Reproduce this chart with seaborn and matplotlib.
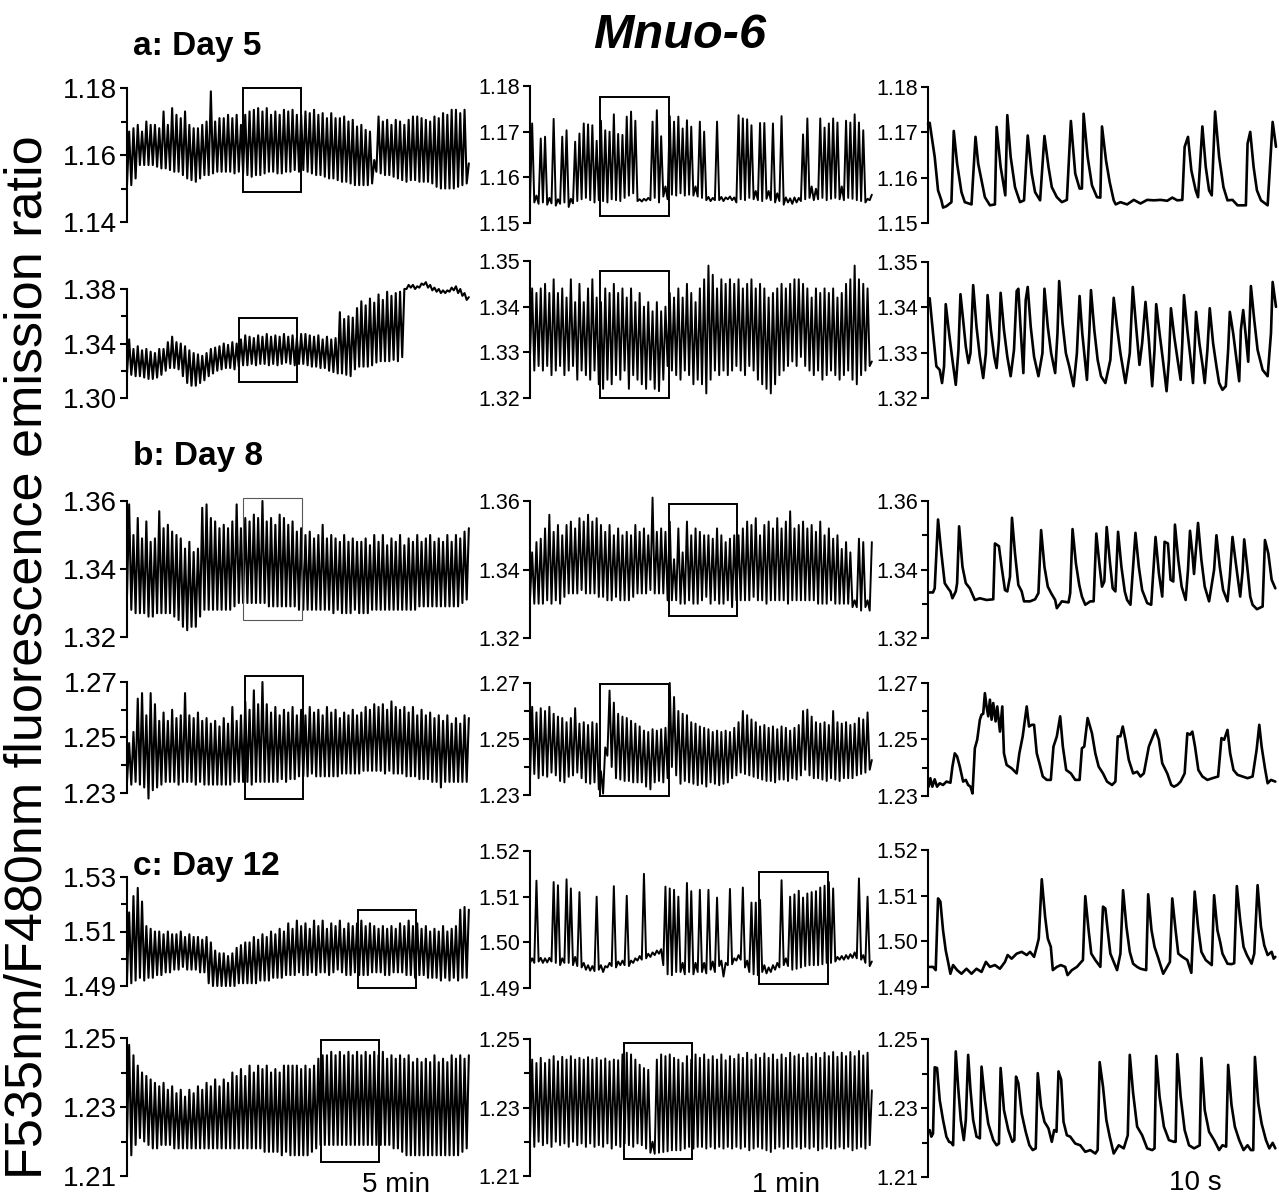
import numpy as np
import matplotlib
matplotlib.use("Agg")
import matplotlib.pyplot as plt
from matplotlib.patches import Rectangle
import seaborn as sns

sns.set_style("ticks")
plt.rcParams["font.family"] = ["Liberation Sans", "DejaVu Sans"]
plt.rcParams.update({"text.color": "black", "axes.labelcolor": "black", "xtick.color": "black",
                     "ytick.color": "black", "axes.edgecolor": "black"})

# ================= DATA (F535/F480 ratio values) =================
# Column 1 (overview, 5 min bar): per-bin minimum / maximum of the record, 80 bins
D5A_LONG_LO = [1.151,1.151,1.153,1.157,1.157,1.157,1.157,1.1565,1.156,1.156,
               1.1555,1.155,1.155,1.154,1.153,1.1525,1.152,1.153,1.154,1.154,
               1.1545,1.155,1.155,1.155,1.155,1.1545,1.155,1.1545,1.154,1.1535,
               1.154,1.154,1.1545,1.155,1.155,1.1545,1.1545,1.155,1.155,1.1555,
               1.155,1.1555,1.155,1.1545,1.154,1.154,1.1535,1.153,1.153,1.1525,
               1.152,1.152,1.1515,1.151,1.151,1.151,1.151,1.1515,1.155,1.1545,
               1.154,1.154,1.1535,1.153,1.1525,1.152,1.1525,1.1525,1.152,1.152,
               1.152,1.1515,1.1505,1.150,1.150,1.150,1.150,1.1505,1.151,1.1515]
D5A_LONG_HI = [1.167,1.168,1.169,1.167,1.170,1.169,1.169,1.168,1.173,1.169,
               1.174,1.172,1.171,1.173,1.169,1.168,1.168,1.169,1.170,1.179,
               1.170,1.171,1.171,1.172,1.171,1.172,1.169,1.172,1.173,1.1735,
               1.174,1.173,1.174,1.172,1.173,1.172,1.1735,1.173,1.1735,1.172,
               1.172,1.173,1.1725,1.1735,1.172,1.1725,1.171,1.1725,1.171,1.171,
               1.1715,1.170,1.1705,1.1685,1.169,1.1675,1.167,1.1585,1.1715,1.170,
               1.1705,1.169,1.1705,1.170,1.169,1.1705,1.1715,1.1715,1.171,1.1705,
               1.170,1.1715,1.171,1.1725,1.172,1.1735,1.1735,1.1725,1.1735,1.1575]
D5B_LONG_LO = [1.318,1.317,1.316,1.316,1.315,1.314,1.314,1.315,1.317,1.320,
               1.322,1.322,1.321,1.316,1.311,1.309,1.309,1.311,1.313,1.316,
               1.318,1.320,1.321,1.322,1.322,1.321,1.323,1.324,1.324,1.325,
               1.324,1.325,1.325,1.324,1.325,1.324,1.325,1.326,1.325,1.324,
               1.325,1.325,1.324,1.323,1.323,1.322,1.322,1.320,1.319,1.318,
               1.318,1.317,1.316,1.321,1.323,1.323,1.323,1.324,1.326,1.327,
               1.327,1.327,1.328,1.327,1.330,1.380,1.381,1.380,1.381,1.383,
               1.381,1.379,1.378,1.377,1.377,1.378,1.379,1.377,1.375,1.372]
D5B_LONG_HI = [1.343,1.336,1.338,1.335,1.336,1.334,1.333,1.336,1.336,1.341,
               1.345,1.341,1.340,1.338,1.335,1.333,1.332,1.331,1.333,1.336,
               1.337,1.338,1.340,1.339,1.341,1.340,1.343,1.346,1.345,1.344,
               1.346,1.345,1.347,1.345,1.346,1.345,1.347,1.345,1.346,1.344,
               1.347,1.347,1.346,1.345,1.346,1.343,1.345,1.343,1.344,1.363,
               1.358,1.360,1.359,1.366,1.371,1.368,1.373,1.370,1.376,1.372,
               1.378,1.375,1.377,1.378,1.380,1.383,1.383,1.382,1.384,1.385,
               1.383,1.381,1.380,1.379,1.379,1.381,1.382,1.380,1.377,1.374]
D8A_LONG_LO = [1.332,1.328,1.327,1.327,1.327,1.326,1.326,1.327,1.327,1.327,
               1.327,1.326,1.325,1.323,1.322,1.323,1.323,1.326,1.328,1.328,
               1.328,1.328,1.328,1.328,1.328,1.329,1.330,1.330,1.330,1.330,
               1.330,1.330,1.330,1.329,1.329,1.329,1.329,1.329,1.329,1.329,
               1.328,1.328,1.328,1.328,1.328,1.328,1.328,1.328,1.327,1.328,
               1.327,1.327,1.327,1.328,1.327,1.327,1.327,1.328,1.328,1.328,
               1.328,1.328,1.328,1.328,1.328,1.328,1.328,1.328,1.329,1.329,
               1.329,1.329,1.329,1.329,1.329,1.329,1.329,1.329,1.330,1.331]
D8A_LONG_HI = [1.359,1.350,1.355,1.349,1.354,1.348,1.349,1.357,1.352,1.353,
               1.351,1.350,1.349,1.346,1.348,1.345,1.346,1.358,1.359,1.355,
               1.354,1.352,1.353,1.352,1.354,1.359,1.352,1.355,1.354,1.356,
               1.355,1.360,1.354,1.355,1.353,1.356,1.355,1.353,1.354,1.351,
               1.352,1.350,1.351,1.349,1.350,1.353,1.349,1.350,1.349,1.348,
               1.350,1.348,1.349,1.348,1.348,1.349,1.347,1.350,1.348,1.350,
               1.347,1.349,1.348,1.350,1.347,1.349,1.348,1.350,1.348,1.349,
               1.350,1.348,1.349,1.348,1.350,1.348,1.350,1.349,1.351,1.352]
D8B_LONG_LO = [1.234,1.233,1.234,1.233,1.232,1.228,1.231,1.232,1.233,1.234,
               1.234,1.234,1.233,1.234,1.234,1.234,1.233,1.234,1.233,1.233,
               1.233,1.233,1.233,1.233,1.233,1.234,1.234,1.234,1.234,1.233,
               1.234,1.234,1.234,1.234,1.234,1.234,1.235,1.234,1.235,1.235,
               1.236,1.236,1.236,1.237,1.236,1.236,1.236,1.236,1.236,1.236,
               1.237,1.237,1.237,1.237,1.237,1.238,1.238,1.238,1.238,1.238,
               1.237,1.238,1.237,1.237,1.237,1.236,1.236,1.236,1.235,1.235,
               1.235,1.234,1.234,1.232,1.234,1.234,1.234,1.234,1.234,1.234]
D8B_LONG_HI = [1.248,1.252,1.264,1.266,1.258,1.266,1.262,1.256,1.259,1.256,
               1.260,1.257,1.258,1.266,1.258,1.257,1.259,1.256,1.257,1.255,
               1.256,1.254,1.257,1.255,1.261,1.256,1.258,1.263,1.260,1.267,
               1.262,1.270,1.262,1.259,1.261,1.258,1.260,1.259,1.261,1.258,
               1.260,1.258,1.261,1.259,1.260,1.258,1.261,1.259,1.260,1.257,
               1.259,1.258,1.260,1.258,1.259,1.261,1.260,1.262,1.261,1.262,
               1.260,1.263,1.261,1.260,1.261,1.259,1.261,1.258,1.260,1.258,
               1.259,1.257,1.258,1.256,1.258,1.255,1.257,1.255,1.258,1.257]
D12A_LONG_LO = [1.492,1.491,1.492,1.493,1.492,1.493,1.493,1.494,1.494,1.495,
                1.495,1.496,1.496,1.497,1.496,1.496,1.496,1.495,1.495,1.491,
                1.490,1.490,1.490,1.490,1.490,1.490,1.491,1.491,1.491,1.491,
                1.491,1.492,1.492,1.492,1.493,1.493,1.493,1.494,1.494,1.494,
                1.495,1.494,1.494,1.495,1.494,1.495,1.495,1.494,1.495,1.496,
                1.495,1.494,1.494,1.495,1.494,1.494,1.494,1.495,1.495,1.495,
                1.494,1.494,1.495,1.495,1.495,1.494,1.494,1.493,1.494,1.494,
                1.493,1.493,1.493,1.492,1.493,1.492,1.493,1.492,1.493,1.493]
D12A_LONG_HI = [1.517,1.523,1.526,1.521,1.512,1.511,1.510,1.510,1.509,1.510,
                1.509,1.509,1.510,1.508,1.509,1.508,1.508,1.507,1.508,1.506,
                1.503,1.502,1.502,1.501,1.502,1.504,1.505,1.506,1.506,1.508,
                1.507,1.509,1.508,1.510,1.509,1.511,1.510,1.513,1.511,1.514,
                1.512,1.513,1.511,1.514,1.512,1.514,1.511,1.513,1.512,1.514,
                1.511,1.513,1.512,1.513,1.514,1.512,1.513,1.512,1.511,1.512,
                1.511,1.512,1.511,1.513,1.512,1.514,1.512,1.513,1.511,1.512,
                1.510,1.511,1.510,1.512,1.510,1.511,1.512,1.518,1.519,1.518]
D12B_LONG_LO = [1.221,1.216,1.219,1.221,1.220,1.219,1.218,1.218,1.219,1.219,
                1.219,1.218,1.218,1.218,1.218,1.218,1.218,1.218,1.218,1.218,
                1.218,1.218,1.218,1.218,1.218,1.218,1.218,1.218,1.218,1.218,
                1.218,1.218,1.217,1.217,1.217,1.217,1.216,1.217,1.216,1.216,
                1.216,1.216,1.216,1.217,1.218,1.219,1.219,1.219,1.219,1.219,
                1.219,1.219,1.219,1.219,1.219,1.219,1.219,1.219,1.219,1.219,
                1.219,1.219,1.218,1.218,1.217,1.216,1.216,1.216,1.216,1.216,
                1.216,1.216,1.216,1.216,1.216,1.216,1.216,1.216,1.217,1.218]
D12B_LONG_HI = [1.248,1.245,1.242,1.240,1.239,1.238,1.237,1.236,1.237,1.235,
                1.236,1.234,1.235,1.233,1.235,1.234,1.236,1.235,1.237,1.236,
                1.238,1.236,1.238,1.237,1.240,1.239,1.241,1.239,1.242,1.240,
                1.242,1.241,1.242,1.240,1.241,1.240,1.242,1.242,1.242,1.242,
                1.241,1.242,1.241,1.242,1.244,1.245,1.245,1.246,1.245,1.246,
                1.245,1.246,1.245,1.246,1.245,1.246,1.245,1.246,1.245,1.246,
                1.244,1.245,1.244,1.245,1.244,1.245,1.243,1.244,1.243,1.244,
                1.243,1.245,1.243,1.244,1.243,1.245,1.244,1.245,1.244,1.245]

# Column 2 (1 min bar): per-bin minimum / maximum, 80 bins
D5A_MID_LO = [1.1548,1.1545,1.1542,1.1545,1.1540,1.1543,1.1538,1.1542,1.1545,1.1535,
              1.1543,1.1548,1.1552,1.1555,1.1550,1.1545,1.1550,1.1548,1.1545,1.1552,
              1.1550,1.1548,1.1555,1.1560,1.1565,1.1548,1.1547,1.1549,1.1550,1.1555,
              1.1545,1.1558,1.1552,1.1562,1.1560,1.1565,1.1560,1.1562,1.1560,1.1558,
              1.1555,1.1550,1.1548,1.1550,1.1550,1.1548,1.1552,1.1550,1.1545,1.1552,
              1.1550,1.1555,1.1552,1.1550,1.1548,1.1553,1.1550,1.1545,1.1548,1.1540,
              1.1545,1.1542,1.1545,1.1548,1.1552,1.1555,1.1550,1.1552,1.1555,1.1550,
              1.1553,1.1555,1.1552,1.1550,1.1555,1.1553,1.1550,1.1548,1.1545,1.1550]
D5A_MID_HI = [1.1718,1.1560,1.1685,1.1689,1.1555,1.1728,1.1552,1.1689,1.1703,1.1553,
              1.1678,1.1696,1.1718,1.1716,1.1714,1.1680,1.1724,1.1703,1.1700,1.1738,
              1.1695,1.1693,1.1733,1.1744,1.1724,1.1552,1.1553,1.1555,1.1722,1.1747,
              1.1690,1.1580,1.1734,1.1722,1.1733,1.1707,1.1725,1.1711,1.1580,1.1722,
              1.1700,1.1557,1.1555,1.1722,1.1557,1.1556,1.1558,1.1556,1.1736,1.1729,
              1.1727,1.1714,1.1570,1.1719,1.1719,1.1570,1.1718,1.1565,1.1734,1.1556,
              1.1554,1.1556,1.1555,1.1694,1.1729,1.1580,1.1575,1.1729,1.1709,1.1718,
              1.1729,1.1720,1.1580,1.1724,1.1720,1.1738,1.1720,1.1703,1.1553,1.1562]
D5B_MID_LO = [1.329,1.326,1.327,1.326,1.327,1.325,1.326,1.327,1.325,1.326,
              1.327,1.324,1.326,1.325,1.324,1.326,1.323,1.322,1.324,1.323,
              1.325,1.324,1.326,1.322,1.325,1.324,1.323,1.322,1.324,1.322,
              1.3215,1.324,1.327,1.326,1.325,1.324,1.326,1.325,1.323,1.324,
              1.323,1.321,1.324,1.326,1.325,1.326,1.325,1.326,1.327,1.326,
              1.325,1.327,1.326,1.324,1.323,1.322,1.321,1.323,1.325,1.326,
              1.327,1.328,1.327,1.329,1.327,1.326,1.325,1.326,1.324,1.325,
              1.326,1.325,1.324,1.325,1.326,1.324,1.323,1.325,1.326,1.327]
D5B_MID_HI = [1.344,1.343,1.344,1.345,1.343,1.346,1.343,1.344,1.342,1.346,
              1.341,1.345,1.341,1.344,1.346,1.342,1.341,1.344,1.343,1.345,
              1.343,1.344,1.342,1.344,1.341,1.343,1.340,1.341,1.339,1.341,
              1.339,1.340,1.343,1.342,1.344,1.342,1.345,1.343,1.341,1.344,
              1.346,1.349,1.347,1.344,1.346,1.345,1.346,1.345,1.346,1.344,
              1.345,1.346,1.344,1.345,1.344,1.342,1.343,1.344,1.345,1.344,
              1.345,1.346,1.346,1.345,1.344,1.342,1.344,1.343,1.344,1.343,
              1.344,1.342,1.343,1.345,1.346,1.349,1.346,1.345,1.344,1.328]
D8A_MID_LO = [1.331,1.330,1.330,1.330,1.331,1.330,1.331,1.330,1.332,1.333,
              1.333,1.333,1.334,1.333,1.333,1.333,1.332,1.332,1.331,1.331,
              1.332,1.331,1.331,1.331,1.332,1.333,1.333,1.333,1.334,1.333,
              1.333,1.333,1.331,1.331,1.331,1.330,1.330,1.331,1.330,1.330,
              1.331,1.332,1.330,1.331,1.330,1.330,1.331,1.329,1.331,1.331,
              1.331,1.331,1.332,1.331,1.331,1.330,1.331,1.331,1.331,1.331,
              1.330,1.331,1.331,1.331,1.331,1.331,1.331,1.330,1.330,1.330,
              1.331,1.330,1.330,1.330,1.330,1.329,1.329,1.328,1.329,1.328]
D8A_MID_HI = [1.345,1.348,1.349,1.352,1.356,1.351,1.353,1.350,1.353,1.354,
              1.352,1.355,1.354,1.356,1.354,1.355,1.353,1.351,1.353,1.350,
              1.352,1.350,1.351,1.350,1.353,1.351,1.352,1.350,1.361,1.351,
              1.352,1.351,1.354,1.343,1.352,1.345,1.354,1.350,1.352,1.351,
              1.350,1.350,1.349,1.352,1.350,1.348,1.349,1.350,1.350,1.352,
              1.354,1.353,1.355,1.350,1.353,1.354,1.352,1.355,1.352,1.354,
              1.357,1.352,1.353,1.354,1.352,1.353,1.351,1.354,1.350,1.352,
              1.349,1.350,1.346,1.348,1.345,1.331,1.349,1.348,1.331,1.348]
D8B_MID_LO = [1.2355,1.2375,1.2360,1.2370,1.2365,1.2380,1.2370,1.2350,1.2345,1.2365,
              1.2370,1.2380,1.2360,1.2345,1.2340,1.2345,1.2320,1.2305,1.2440,1.2400,
              1.2360,1.2355,1.2350,1.2350,1.2345,1.2345,1.2345,1.2330,1.2320,1.2345,
              1.2350,1.2345,1.2360,1.2400,1.2370,1.2340,1.2350,1.2345,1.2340,1.2335,
              1.2340,1.2330,1.2345,1.2340,1.2335,1.2340,1.2345,1.2360,1.2370,1.2380,
              1.2375,1.2370,1.2365,1.2360,1.2355,1.2350,1.2350,1.2345,1.2355,1.2355,
              1.2350,1.2360,1.2355,1.2370,1.2390,1.2370,1.2360,1.2360,1.2355,1.2350,
              1.2360,1.2355,1.2350,1.2360,1.2360,1.2360,1.2370,1.2375,1.2380,1.2390]
D8B_MID_HI = [1.2615,1.2595,1.2610,1.2600,1.2615,1.2590,1.2580,1.2575,1.2560,1.2575,
              1.2610,1.2555,1.2560,1.2550,1.2560,1.2555,1.2385,1.2470,1.2673,1.2630,
              1.2590,1.2580,1.2575,1.2565,1.2555,1.2545,1.2530,1.2525,1.2535,1.2530,
              1.2535,1.2540,1.2700,1.2650,1.2600,1.2590,1.2585,1.2560,1.2555,1.2545,
              1.2540,1.2535,1.2525,1.2530,1.2525,1.2530,1.2525,1.2540,1.2560,1.2600,
              1.2585,1.2570,1.2560,1.2545,1.2550,1.2540,1.2545,1.2535,1.2545,1.2540,
              1.2530,1.2540,1.2550,1.2600,1.2605,1.2580,1.2560,1.2555,1.2560,1.2550,
              1.2600,1.2560,1.2555,1.2560,1.2550,1.2555,1.2575,1.2570,1.2595,1.2425]
D12A_MID_LO = [1.4955,1.4955,1.4958,1.4955,1.4956,1.4958,1.4955,1.4950,1.4955,1.4955,
               1.4950,1.4948,1.4945,1.4940,1.4938,1.4937,1.4940,1.4935,1.4945,1.4948,
               1.4945,1.4950,1.4950,1.4948,1.4955,1.4960,1.4962,1.4965,1.4968,1.4972,
               1.4975,1.4950,1.4930,1.4928,1.4935,1.4935,1.4930,1.4935,1.4930,1.4935,
               1.4935,1.4932,1.4940,1.4935,1.4948,1.4925,1.4950,1.4952,1.4960,1.4962,
               1.4945,1.4935,1.4930,1.4928,1.4935,1.4932,1.4935,1.4940,1.4945,1.4950,
               1.4948,1.4940,1.4942,1.4945,1.4948,1.4950,1.4950,1.4950,1.4952,1.4955,
               1.4955,1.4958,1.4962,1.4962,1.4964,1.4966,1.4965,1.4962,1.4955,1.4948]
D12A_MID_HI = [1.4965,1.5135,1.4966,1.4965,1.4966,1.5132,1.5125,1.4965,1.5138,1.5118,
               1.4968,1.5110,1.4955,1.4950,1.4948,1.5100,1.4950,1.4948,1.4955,1.5123,
               1.4958,1.4960,1.5102,1.4960,1.4965,1.4970,1.5150,1.4975,1.4978,1.4982,
               1.4985,1.5122,1.5118,1.5115,1.5100,1.4955,1.5130,1.5112,1.4955,1.5115,
               1.4955,1.5115,1.4958,1.5098,1.4960,1.4955,1.5117,1.4965,1.4972,1.5120,
               1.4960,1.5087,1.5087,1.5093,1.4950,1.4945,1.4950,1.4955,1.5136,1.4965,
               1.5100,1.5105,1.5113,1.5098,1.5107,1.5110,1.5112,1.5120,1.5124,1.5132,
               1.5118,1.4968,1.4970,1.4972,1.4974,1.4978,1.5140,1.4972,1.5100,1.4958]
D12B_MID_LO = [1.2200,1.2185,1.2200,1.2190,1.2195,1.2185,1.2200,1.2190,1.2195,1.2185,
               1.2200,1.2190,1.2195,1.2185,1.2195,1.2185,1.2190,1.2185,1.2195,1.2180,
               1.2190,1.2185,1.2195,1.2190,1.2185,1.2195,1.2190,1.2180,1.2168,1.2165,
               1.2168,1.2170,1.2172,1.2175,1.2175,1.2175,1.2180,1.2185,1.2180,1.2185,
               1.2185,1.2180,1.2185,1.2180,1.2185,1.2180,1.2185,1.2180,1.2185,1.2180,
               1.2185,1.2175,1.2180,1.2185,1.2180,1.2175,1.2170,1.2180,1.2185,1.2180,
               1.2185,1.2180,1.2185,1.2180,1.2185,1.2180,1.2185,1.2175,1.2180,1.2185,
               1.2180,1.2180,1.2185,1.2180,1.2185,1.2175,1.2180,1.2185,1.2180,1.2190]
D12B_MID_HI = [1.2440,1.2430,1.2445,1.2430,1.2440,1.2450,1.2435,1.2448,1.2440,1.2450,
               1.2440,1.2445,1.2440,1.2447,1.2440,1.2445,1.2438,1.2443,1.2435,1.2440,
               1.2438,1.2455,1.2460,1.2455,1.2440,1.2425,1.2415,1.2410,1.2200,1.2440,
               1.2455,1.2450,1.2455,1.2445,1.2440,1.2430,1.2450,1.2440,1.2455,1.2445,
               1.2455,1.2440,1.2450,1.2440,1.2455,1.2438,1.2450,1.2442,1.2455,1.2445,
               1.2460,1.2440,1.2455,1.2445,1.2458,1.2445,1.2455,1.2440,1.2455,1.2445,
               1.2460,1.2450,1.2455,1.2445,1.2458,1.2448,1.2458,1.2445,1.2460,1.2450,
               1.2462,1.2448,1.2460,1.2450,1.2462,1.2450,1.2465,1.2452,1.2460,1.2350]

# Column 3 (10 s bar): (time s, ratio)
D5A_ZOOM = [(0.0,1.1719),(0.25,1.1721),(1.0,1.1646),(1.5,1.1572),(2.0,1.1550),(2.25,1.1534),
            (2.75,1.1537),(3.5,1.1546),(3.85,1.1703),(4.35,1.1631),(5.0,1.1568),(5.5,1.1546),
            (6.5,1.1541),(7.1,1.1690),(7.5,1.1631),(8.0,1.1594),(8.5,1.1557),(9.25,1.1539),
            (10.0,1.1541),(10.25,1.1712),(10.85,1.1624),(11.55,1.1561),(11.85,1.1738),(12.35,1.1646),
            (13.0,1.1579),(13.75,1.1546),(14.35,1.1550),(14.9,1.1693),(15.5,1.1609),(16.0,1.1568),
            (16.75,1.1550),(17.4,1.1692),(18.0,1.1624),(18.5,1.1579),(19.25,1.1557),(20.0,1.1546),
            (20.75,1.1551),(21.35,1.1725),(22.0,1.1609),(22.65,1.1576),(23.0,1.1576),(23.25,1.1741),
            (23.85,1.1646),(24.5,1.1583),(25.25,1.1557),(25.75,1.1556),(26.0,1.1713),(26.6,1.1638),
            (27.15,1.1590),(27.75,1.1550),(28.05,1.1541),(28.75,1.1546),(29.75,1.1541),(30.75,1.1551),
            (31.75,1.1543),(32.75,1.1551),(33.75,1.1550),(34.75,1.1551),(35.75,1.1549),(36.5,1.1556),
            (37.25,1.1550),(38.0,1.1551),(38.35,1.1668),(38.85,1.1690),(39.35,1.1616),(40.0,1.1572),
            (40.35,1.1557),(41.0,1.1713),(41.5,1.1624),(42.0,1.1572),(42.4,1.1561),(42.9,1.1746),
            (43.5,1.1646),(44.15,1.1579),(44.75,1.1550),(45.5,1.1551),(46.25,1.1539),(47.5,1.1539),
            (47.75,1.1675),(48.15,1.1701),(48.65,1.1624),(49.15,1.1572),(49.75,1.1550),(50.75,1.1539),
            (51.5,1.1723),(52.0,1.1668)]
D5B_ZOOM = [(0.0,1.3412),(0.25,1.3420),(0.75,1.3343),(1.25,1.3270),(1.75,1.3262),(2.1,1.3233),
            (2.4,1.3270),(2.65,1.3407),(3.15,1.3343),(3.65,1.3284),(4.15,1.3229),(4.55,1.3306),
            (4.85,1.3429),(5.25,1.3372),(5.65,1.3313),(6.05,1.3277),(6.35,1.3299),(6.75,1.3449),
            (7.25,1.3357),(7.75,1.3291),(8.25,1.3244),(8.65,1.3299),(8.9,1.3427),(9.4,1.3350),
            (9.9,1.3291),(10.25,1.3266),(10.6,1.3328),(10.85,1.3432),(11.35,1.3350),(11.85,1.3291),
            (12.35,1.3248),(12.85,1.3306),(13.25,1.3436),(13.5,1.3441),(13.85,1.3350),(14.25,1.3255),
            (14.6,1.3416),(14.9,1.3445),(15.35,1.3357),(15.85,1.3291),(16.5,1.3248),(17.1,1.3299),
            (17.4,1.3441),(17.9,1.3357),(18.4,1.3299),(19.0,1.3255),(19.35,1.3343),(19.6,1.3458),
            (20.1,1.3365),(20.6,1.3299),(21.1,1.3270),(21.75,1.3226),(22.25,1.3299),(22.65,1.3425),
            (23.05,1.3343),(23.45,1.3284),(23.75,1.3240),(24.1,1.3343),(24.35,1.3438),(24.85,1.3350),
            (25.35,1.3284),(25.85,1.3248),(26.5,1.3233),(27.25,1.3284),(27.75,1.3421),(28.25,1.3357),
            (28.75,1.3299),(29.5,1.3233),(30.15,1.3299),(30.6,1.3445),(31.1,1.3357),(31.6,1.3273),
            (32.0,1.3321),(32.5,1.3412),(33.0,1.3328),(33.5,1.3226),(33.85,1.3306),(34.1,1.3407),
            (34.6,1.3343),(35.1,1.3284),(35.65,1.3215),(36.0,1.3284),(36.3,1.3398),(36.8,1.3335),
            (37.3,1.3284),(37.75,1.3240),(38.0,1.3321),(38.25,1.3427),(38.75,1.3350),(39.25,1.3284),
            (39.6,1.3233),(39.85,1.3313),(40.05,1.3390),(40.55,1.3321),(41.05,1.3270),(41.35,1.3233),
            (41.75,1.3306),(42.1,1.3398),(42.6,1.3321),(43.1,1.3270),(43.5,1.3233),(44.0,1.3218),
            (44.5,1.3226),(44.85,1.3306),(45.1,1.3390),(45.6,1.3343),(46.1,1.3284),(46.5,1.3237),
            (46.75,1.3350),(47.1,1.3394),(47.5,1.3335),(47.85,1.3280),(48.25,1.3447),(48.75,1.3372),
            (49.25,1.3306),(50.0,1.3262),(50.75,1.3248),(51.25,1.3343),(51.5,1.3456),(52.0,1.3401)]
D8A_ZOOM = [(0.1,1.3333),(0.75,1.3333),(1.0,1.3345),(1.5,1.3546),(2.0,1.3447),(2.5,1.3360),
            (3.0,1.3345),(3.35,1.3336),(3.65,1.3316),(4.15,1.3336),(4.35,1.3360),(4.65,1.3526),
            (5.15,1.3408),(5.65,1.3360),(6.25,1.3345),(7.0,1.3311),(7.75,1.3316),(8.75,1.3311),
            (9.75,1.3313),(10.0,1.3476),(10.6,1.3468),(11.0,1.3408),(11.5,1.3340),(11.85,1.3336),
            (12.25,1.3379),(12.55,1.3551),(13.0,1.3447),(13.5,1.3355),(14.0,1.3336),(14.35,1.3307),
            (15.25,1.3307),(16.0,1.3313),(16.5,1.3331),(16.9,1.3515),(17.4,1.3408),(17.9,1.3350),
            (18.4,1.3331),(19.0,1.3311),(19.25,1.3287),(20.0,1.3307),(21.0,1.3304),(21.25,1.3331),
            (21.6,1.3518),(22.1,1.3418),(22.6,1.3355),(23.0,1.3321),(23.5,1.3297),(24.25,1.3307),
            (24.75,1.3307),(25.15,1.3505),(25.65,1.3408),(26.0,1.3350),(26.35,1.3365),(26.7,1.3524),
            (27.2,1.3418),(27.6,1.3345),(28.0,1.3336),(28.4,1.3510),(28.9,1.3408),(29.4,1.3336),
            (29.75,1.3311),(30.25,1.3297),(31.0,1.3507),(31.5,1.3408),(32.0,1.3340),(32.75,1.3302),
            (33.35,1.3297),(34.0,1.3495),(34.5,1.3389),(35.0,1.3321),(35.35,1.3481),(35.85,1.3476),
            (36.25,1.3370),(36.65,1.3365),(36.9,1.3531),(37.4,1.3428),(37.9,1.3350),(38.5,1.3311),
            (38.85,1.3399),(39.15,1.3513),(39.5,1.3447),(39.75,1.3387),(40.35,1.3536),(40.85,1.3428),
            (41.35,1.3350),(42.0,1.3307),(42.75,1.3399),(43.1,1.3500),(43.6,1.3408),(44.1,1.3340),
            (44.75,1.3307),(45.1,1.3379),(45.5,1.3495),(46.0,1.3418),(46.65,1.3321),(47.0,1.3394),
            (47.25,1.3488),(47.75,1.3399),(48.15,1.3321),(48.5,1.3297),(49.15,1.3284),(50.0,1.3292),
            (50.35,1.3486),(50.85,1.3447),(51.35,1.3370),(51.9,1.3345)]
D8B_ZOOM = [(0.1,1.2333),(0.35,1.2363),(0.65,1.2333),(1.0,1.2359),(1.35,1.2333),(1.75,1.2345),
            (2.25,1.2339),(2.75,1.2351),(3.35,1.2347),(3.65,1.2404),(4.0,1.2451),(4.35,1.2440),
            (4.75,1.2404),(5.25,1.2351),(5.65,1.2357),(6.0,1.2339),(6.35,1.2333),(6.65,1.2309),
            (7.0,1.2469),(7.35,1.2499),(7.75,1.2570),(8.0,1.2588),(8.25,1.2591),(8.5,1.2664),
            (8.75,1.2617),(9.0,1.2582),(9.25,1.2641),(9.5,1.2570),(9.75,1.2629),(10.1,1.2564),
            (10.35,1.2617),(10.75,1.2528),(11.1,1.2617),(11.35,1.2451),(11.75,1.2410),(12.5,1.2398),
            (13.25,1.2380),(13.65,1.2451),(14.15,1.2511),(14.75,1.2617),(15.1,1.2546),(15.5,1.2552),
            (15.85,1.2552),(16.25,1.2451),(16.65,1.2416),(17.15,1.2369),(17.75,1.2357),(18.35,1.2357),
            (18.75,1.2475),(19.25,1.2511),(19.75,1.2582),(20.15,1.2475),(20.65,1.2392),(21.35,1.2380),
            (22.0,1.2357),(22.65,1.2357),(23.0,1.2469),(23.35,1.2475),(23.85,1.2576),(24.5,1.2522),
            (25.0,1.2451),(25.5,1.2404),(26.15,1.2380),(26.75,1.2351),(27.5,1.2339),(28.0,1.2351),
            (28.35,1.2511),(28.75,1.2511),(29.1,1.2546),(29.5,1.2499),(30.0,1.2428),(30.65,1.2380),
            (31.25,1.2386),(31.75,1.2369),(32.25,1.2380),(33.0,1.2475),(33.5,1.2505),(34.0,1.2534),
            (34.5,1.2499),(35.0,1.2416),(35.75,1.2380),(36.35,1.2339),(36.75,1.2333),(37.25,1.2339),
            (37.75,1.2351),(38.35,1.2380),(38.75,1.2522),(39.15,1.2517),(39.5,1.2528),(39.9,1.2475),
            (40.4,1.2392),(41.0,1.2369),(41.75,1.2357),(42.5,1.2363),(43.35,1.2369),(43.85,1.2505),
            (44.25,1.2499),(44.75,1.2534),(45.15,1.2451),(45.65,1.2392),(46.25,1.2375),(47.0,1.2369),
            (47.75,1.2363),(48.5,1.2369),(49.1,1.2463),(49.5,1.2552),(49.85,1.2475),(50.35,1.2398),
            (50.75,1.2345),(51.25,1.2357),(51.9,1.2351)]
D12A_ZOOM = [(0.25,1.4944),(0.75,1.4944),(1.15,1.4937),(1.5,1.5094),(1.85,1.5087),(2.25,1.5024),
             (2.65,1.4980),(3.0,1.4955),(3.35,1.4929),(3.75,1.4948),(4.35,1.4937),(5.0,1.4929),
             (5.75,1.4940),(6.5,1.4929),(7.25,1.4940),(8.0,1.4933),(8.65,1.4955),(9.25,1.4944),
             (10.0,1.4948),(10.75,1.4940),(11.5,1.4955),(11.9,1.4970),(12.5,1.4962),(13.25,1.4973),
             (14.0,1.4977),(14.75,1.4970),(15.25,1.4977),(15.85,1.4966),(16.25,1.4988),(16.55,1.5006),
             (17.0,1.5136),(17.5,1.5054),(17.9,1.5006),(18.35,1.4988),(18.65,1.4937),(19.25,1.4944),
             (19.85,1.4948),(20.5,1.4944),(20.85,1.4926),(21.5,1.4937),(22.25,1.4944),(23.15,1.4959),
             (23.5,1.5099),(24.0,1.5024),(24.4,1.4973),(25.0,1.4959),(25.75,1.4944),(26.15,1.5076),
             (26.5,1.5072),(26.85,1.5024),(27.25,1.4973),(27.75,1.4955),(28.25,1.4937),(28.75,1.4973),
             (29.15,1.5112),(29.65,1.5032),(30.15,1.4977),(30.65,1.4951),(31.25,1.4944),(31.75,1.4940),
             (32.6,1.4937),(32.9,1.5103),(33.4,1.5024),(33.85,1.4988),(34.35,1.4966),(35.15,1.4929),
             (36.15,1.4955),(36.5,1.5094),(37.0,1.5024),(37.4,1.4973),(38.0,1.4966),(38.75,1.4959),
             (39.35,1.4931),(39.85,1.5109),(40.35,1.5032),(40.85,1.4977),(41.5,1.4959),(42.4,1.4948),
             (42.75,1.5101),(43.25,1.5024),(43.65,1.4999),(44.0,1.4973),(44.75,1.4951),(45.35,1.4950),
             (45.75,1.4952),(46.15,1.5121),(46.65,1.5046),(47.15,1.4988),(47.65,1.4970),(48.35,1.4951),
             (48.75,1.4973),(49.25,1.5123),(49.75,1.5032),(50.25,1.4991),(50.75,1.4970),(51.35,1.4977),
             (51.65,1.4962),(51.9,1.4966)]
D12B_ZOOM = [(0.25,1.2236),(0.5,1.2217),(0.75,1.2226),(1.0,1.2418),(1.35,1.2416),(1.75,1.2323),
             (2.25,1.2265),(2.75,1.2217),(3.15,1.2202),(3.5,1.2199),(3.75,1.2192),(4.15,1.2464),
             (4.5,1.2362),(4.9,1.2265),(5.35,1.2207),(5.65,1.2265),(6.0,1.2454),(6.35,1.2352),
             (6.75,1.2265),(7.25,1.2217),(7.75,1.2212),(8.0,1.2420),(8.5,1.2323),(9.0,1.2255),
             (9.75,1.2207),(10.25,1.2192),(10.6,1.2197),(10.85,1.2416),(11.35,1.2294),(12.0,1.2236),
             (12.6,1.2202),(12.9,1.2207),(13.15,1.2391),(13.5,1.2372),(14.0,1.2284),(14.6,1.2231),
             (15.15,1.2192),(15.65,1.2178),(16.1,1.2183),(16.4,1.2401),(16.9,1.2304),(17.4,1.2260),
             (18.0,1.2241),(18.5,1.2202),(18.85,1.2236),(19.2,1.2231),(19.5,1.2406),(19.9,1.2382),
             (20.25,1.2260),(20.75,1.2221),(21.25,1.2217),(22.0,1.2197),(22.75,1.2192),(23.5,1.2173),
             (24.25,1.2178),(25.0,1.2168),(25.35,1.2178),(25.65,1.2433),(26.15,1.2362),(26.65,1.2265),
             (27.15,1.2217),(27.75,1.2168),(28.5,1.2192),(29.25,1.2183),(29.85,1.2221),(30.15,1.2454),
             (30.65,1.2343),(31.25,1.2246),(32.0,1.2221),(32.75,1.2183),(33.5,1.2178),(33.85,1.2183),
             (34.1,1.2451),(34.6,1.2333),(35.25,1.2246),(36.0,1.2207),(36.75,1.2202),(37.0,1.2202),
             (37.25,1.2456),(37.75,1.2333),(38.35,1.2236),(39.0,1.2192),(39.75,1.2183),(40.25,1.2188),
             (40.6,1.2192),(40.85,1.2445),(41.35,1.2294),(42.0,1.2231),(42.75,1.2207),(43.5,1.2178),
             (44.0,1.2192),(44.55,1.2188),(44.85,1.2425),(45.35,1.2309),(45.85,1.2246),(46.5,1.2207),
             (47.15,1.2178),(47.75,1.2192),(48.25,1.2178),(48.6,1.2178),(48.85,1.2448),(49.35,1.2314),
             (49.85,1.2255),(50.5,1.2207),(51.0,1.2183),(51.5,1.2199),(51.9,1.2183)]

# Zoom-window boxes (time start, time end, ratio low, ratio high)
BOX_LONG = [(506, 759, 1.149, 1.180), (488, 741, 1.312, 1.359), (506, 763, 1.325, 1.361),
            (515, 767, 1.2278, 1.2722), (1007, 1260, 1.4893, 1.5179), (846, 1099, 1.2141, 1.2494)]
BOX_MID = [(50.9, 101.0, 1.1515, 1.1776), (50.9, 101.0, 1.3200, 1.3478), (101.0, 150.5, 1.3264, 1.3591),
           (50.9, 101.0, 1.2296, 1.2696), (166.5, 216.6, 1.4909, 1.5154), (68.3, 117.7, 1.2150, 1.2488)]

# Y-axis ranges / ticks per row
YLIM_LONG = [(1.14, 1.18), (1.30, 1.38), (1.32, 1.36), (1.23, 1.27), (1.49, 1.53), (1.21, 1.25)]
MAJOR_LONG = [[1.14, 1.16, 1.18], [1.30, 1.34, 1.38], [1.32, 1.34, 1.36],
              [1.23, 1.25, 1.27], [1.49, 1.51, 1.53], [1.21, 1.23, 1.25]]
MINOR_LONG = [[1.15, 1.17], [1.32, 1.36], [], [1.24, 1.26], [1.50, 1.52], [1.22, 1.24]]
YLIM_SHORT = [(1.15, 1.18), (1.32, 1.35), (1.32, 1.36), (1.23, 1.27), (1.49, 1.52), (1.21, 1.25)]
MAJOR_SHORT = [[1.15, 1.16, 1.17, 1.18], [1.32, 1.33, 1.34, 1.35], [1.32, 1.34, 1.36],
               [1.23, 1.25, 1.27], [1.49, 1.50, 1.51, 1.52], [1.21, 1.23, 1.25]]
MINOR_MID = [[], [], [], [1.24, 1.26], [], [1.22, 1.24]]
MINOR_ZOOM = [[], [], [1.33, 1.35], [1.24, 1.26], [], [1.22, 1.24]]

DUR_LONG, DUR_MID, DUR_ZOOM = 1500.0, 250.0, 52.0   # seconds shown per column

LONG_LO = [D5A_LONG_LO, D5B_LONG_LO, D8A_LONG_LO, D8B_LONG_LO, D12A_LONG_LO, D12B_LONG_LO]
LONG_HI = [D5A_LONG_HI, D5B_LONG_HI, D8A_LONG_HI, D8B_LONG_HI, D12A_LONG_HI, D12B_LONG_HI]
MID_LO = [D5A_MID_LO, D5B_MID_LO, D8A_MID_LO, D8B_MID_LO, D12A_MID_LO, D12B_MID_LO]
MID_HI = [D5A_MID_HI, D5B_MID_HI, D8A_MID_HI, D8B_MID_HI, D12A_MID_HI, D12B_MID_HI]
ZOOM = [D5A_ZOOM, D5B_ZOOM, D8A_ZOOM, D8B_ZOOM, D12A_ZOOM, D12B_ZOOM]

# ================= LAYOUT (pixels) =================
W, H = 1279, 1200
COL_X = [(127, 471), (530, 874), (928, 1276)]
ROW_Y = [[(88, 222), (289, 398), (501, 637), (682, 793), (877, 986), (1038, 1176)],
         [(86, 223), (261, 398), (501, 638), (683, 795), (851, 988), (1039, 1176)],
         [(87, 223), (262, 398), (501, 638), (683, 796), (850, 987), (1039, 1177)]]

fig = plt.figure(figsize=(W / 100, H / 100), dpi=100)
fig.patch.set_facecolor("white")


def px_axes(x0, x1, y0, y1):
    return fig.add_axes([x0 / W, 1 - y1 / H, (x1 - x0) / W, (y1 - y0) / H])


def style(ax, ylim, major, minor, fs, xlim):
    ax.set_xlim(*xlim)
    ax.set_ylim(*ylim)
    ax.set_yticks(major)
    ax.set_yticklabels([f"{v:.2f}" for v in major])
    ax.set_yticks(minor, minor=True)
    ax.tick_params(axis="y", which="major", direction="out", length=5, width=1.5,
                   labelsize=fs, pad=2, color="black", labelcolor="black")
    ax.tick_params(axis="y", which="minor", direction="out", length=4, width=1.5, color="black")
    ax.set_xticks([])
    for s in ("top", "right", "bottom"):
        ax.spines[s].set_visible(False)
    ax.spines["left"].set_linewidth(1.5)
    ax.spines["left"].set_color("black")
    ax.set_xlabel("")
    ax.set_ylabel("")
    ax.patch.set_alpha(0)


def trace(ax, t, v, lw):
    sns.lineplot(x=t, y=v, ax=ax, color="black", linewidth=lw, estimator=None, sort=False)
    for ln in ax.lines:
        ln.set_clip_on(False)


def box(ax, b, lw=1.4, color="black"):
    t0, t1, v0, v1 = b
    ax.add_patch(Rectangle((t0, v0), t1 - t0, v1 - v0, fill=False, ec=color, lw=lw,
                           clip_on=False, zorder=5))


for r in range(6):
    # column 1: overview
    x0, x1 = COL_X[0]
    y0, y1 = ROW_Y[0][r]
    ax = px_axes(x0, x1, y0, y1)
    vals = np.column_stack([LONG_LO[r], LONG_HI[r]]).ravel()
    t = np.arange(len(vals)) * DUR_LONG / len(vals)
    trace(ax, t, vals, 1.5)
    box(ax, BOX_LONG[r], lw=(0.8 if r == 2 else 1.4), color=("0.35" if r == 2 else "black"))
    style(ax, YLIM_LONG[r], MAJOR_LONG[r], MINOR_LONG[r], 20, (0, DUR_LONG))

    # column 2: 1-min window
    x0, x1 = COL_X[1]
    y0, y1 = ROW_Y[1][r]
    ax = px_axes(x0, x1, y0, y1)
    vals = np.column_stack([MID_LO[r], MID_HI[r]]).ravel()
    t = np.arange(len(vals)) * DUR_MID / len(vals)
    trace(ax, t, vals, 1.4)
    box(ax, BOX_MID[r])
    style(ax, YLIM_SHORT[r], MAJOR_SHORT[r], MINOR_MID[r], 15.5, (0, DUR_MID))

    # column 3: 10-s window
    x0, x1 = COL_X[2]
    y0, y1 = ROW_Y[2][r]
    ax = px_axes(x0, x1, y0, y1)
    tz = [p[0] for p in ZOOM[r]]
    vz = [p[1] for p in ZOOM[r]]
    trace(ax, tz, vz, 1.9)
    style(ax, YLIM_SHORT[r], MAJOR_SHORT[r], MINOR_ZOOM[r], 15.5, (0, DUR_ZOOM))

# ================= TEXT =================
fig.text(133 / W, 1 - 55 / H, "a: Day 5", fontsize=24, fontweight="bold", ha="left", va="baseline")
fig.text(133 / W, 1 - 465 / H, "b: Day 8", fontsize=24, fontweight="bold", ha="left", va="baseline")
fig.text(133 / W, 1 - 875 / H, "c: Day 12", fontsize=24, fontweight="bold", ha="left", va="baseline")
fig.text(680 / W, 1 - 48 / H, "Mnuo-6", fontsize=35, fontweight="bold", fontstyle="italic",
         ha="center", va="baseline")
fig.text(28 / W, 1 - 657 / H, "F535nm/F480nm fluorescence emission ratio", rotation=90,
         fontsize=37.5, ha="center", va="center")
fig.text(362 / W, 1 - 1192 / H, "5 min", fontsize=20, ha="left", va="baseline")
fig.text(752 / W, 1 - 1192 / H, "1 min", fontsize=20, ha="left", va="baseline")
fig.text(1169 / W, 1 - 1190 / H, "10 s", fontsize=20, ha="left", va="baseline")

fig.savefig("out.png", dpi=100, facecolor="white")
